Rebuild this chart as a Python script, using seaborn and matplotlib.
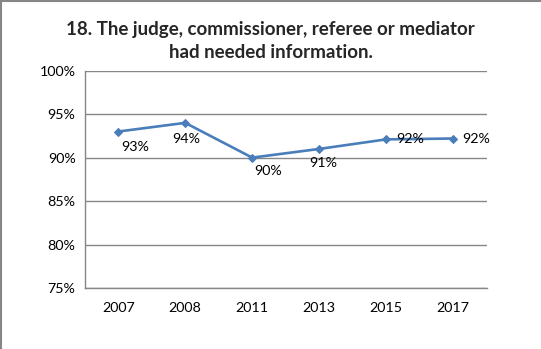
import matplotlib
matplotlib.use("Agg")
import matplotlib.pyplot as plt
import seaborn as sns
import pandas as pd
from matplotlib.ticker import FixedLocator, PercentFormatter
from matplotlib.lines import Line2D

years = ["2007", "2008", "2011", "2013", "2015", "2017"]
values = [93.0, 94.0, 90.0, 91.0, 92.1, 92.2]
labels = ["93%", "94%", "90%", "91%", "92%", "92%"]
yticks = [75, 80, 85, 90, 95, 100]
title = "18. The judge, commissioner, referee or mediator\nhad needed information."

sns.set_theme(style="white")
plt.rcParams['font.family'] = ['Lato', 'DejaVu Sans']

df = pd.DataFrame({"year": years, "value": values})

fig = plt.figure(figsize=(5.41, 3.49), dpi=100)
ax = fig.add_axes([0.1566, 0.1748, 0.8996 - 0.1566, 0.7974 - 0.1748])

line_color = "#4A7EBB"
sns.lineplot(data=df, x="year", y="value", ax=ax, color=line_color, linewidth=1.9,
             marker="D", markersize=4.5, markeredgecolor=line_color, sort=False)

ax.set_ylim(75, 100)
ax.set_xlim(-0.5, len(years) - 0.5)
ax.yaxis.set_major_locator(FixedLocator(yticks))
ax.yaxis.set_major_formatter(PercentFormatter(decimals=0))
ax.grid(axis="y", color="#868686", linewidth=1)
ax.set_axisbelow(True)
ax.set_xlabel("")
ax.set_ylabel("")

for s in ["top", "right"]:
    ax.spines[s].set_visible(False)
for s in ["left", "bottom"]:
    ax.spines[s].set_color("#868686")
    ax.spines[s].set_linewidth(1)

fs = 10.3
ax.set_xticks(range(len(years)))
ax.set_xticklabels(years)
ax.set_xticks([i - 0.5 for i in range(len(years) + 1)], minor=True)
ax.tick_params(axis="x", which="major", length=0, pad=10, labelsize=fs, colors="black")
ax.tick_params(axis="x", which="minor", length=3.6, width=1, color="#868686", direction="out")
ax.tick_params(axis="y", which="major", length=3.6, width=1, color="#868686", direction="out",
               pad=3, labelsize=fs, labelcolor="black")

offsets = [(17, -15), (1, -16), (16, -13), (4, -14), (24, 0), (23, 0)]
for i, (v, lab, off) in enumerate(zip(values, labels, offsets)):
    ax.annotate(lab, (i, v), xytext=off, textcoords="offset pixels",
                ha="center", va="center", fontsize=fs, color="black")

fig.text(0.5, 1 - 41 / 349, title, ha="center", va="center", fontsize=13.5,
         fontweight="bold", linespacing=1.45)

# figure border (top and left visible)
fig.add_artist(Line2D([0.001, 0.001], [0, 1], transform=fig.transFigure, color="#868686", linewidth=1.5))
fig.add_artist(Line2D([0, 1], [0.998, 0.998], transform=fig.transFigure, color="#868686", linewidth=1.5))

fig.savefig("out.png", dpi=100)
